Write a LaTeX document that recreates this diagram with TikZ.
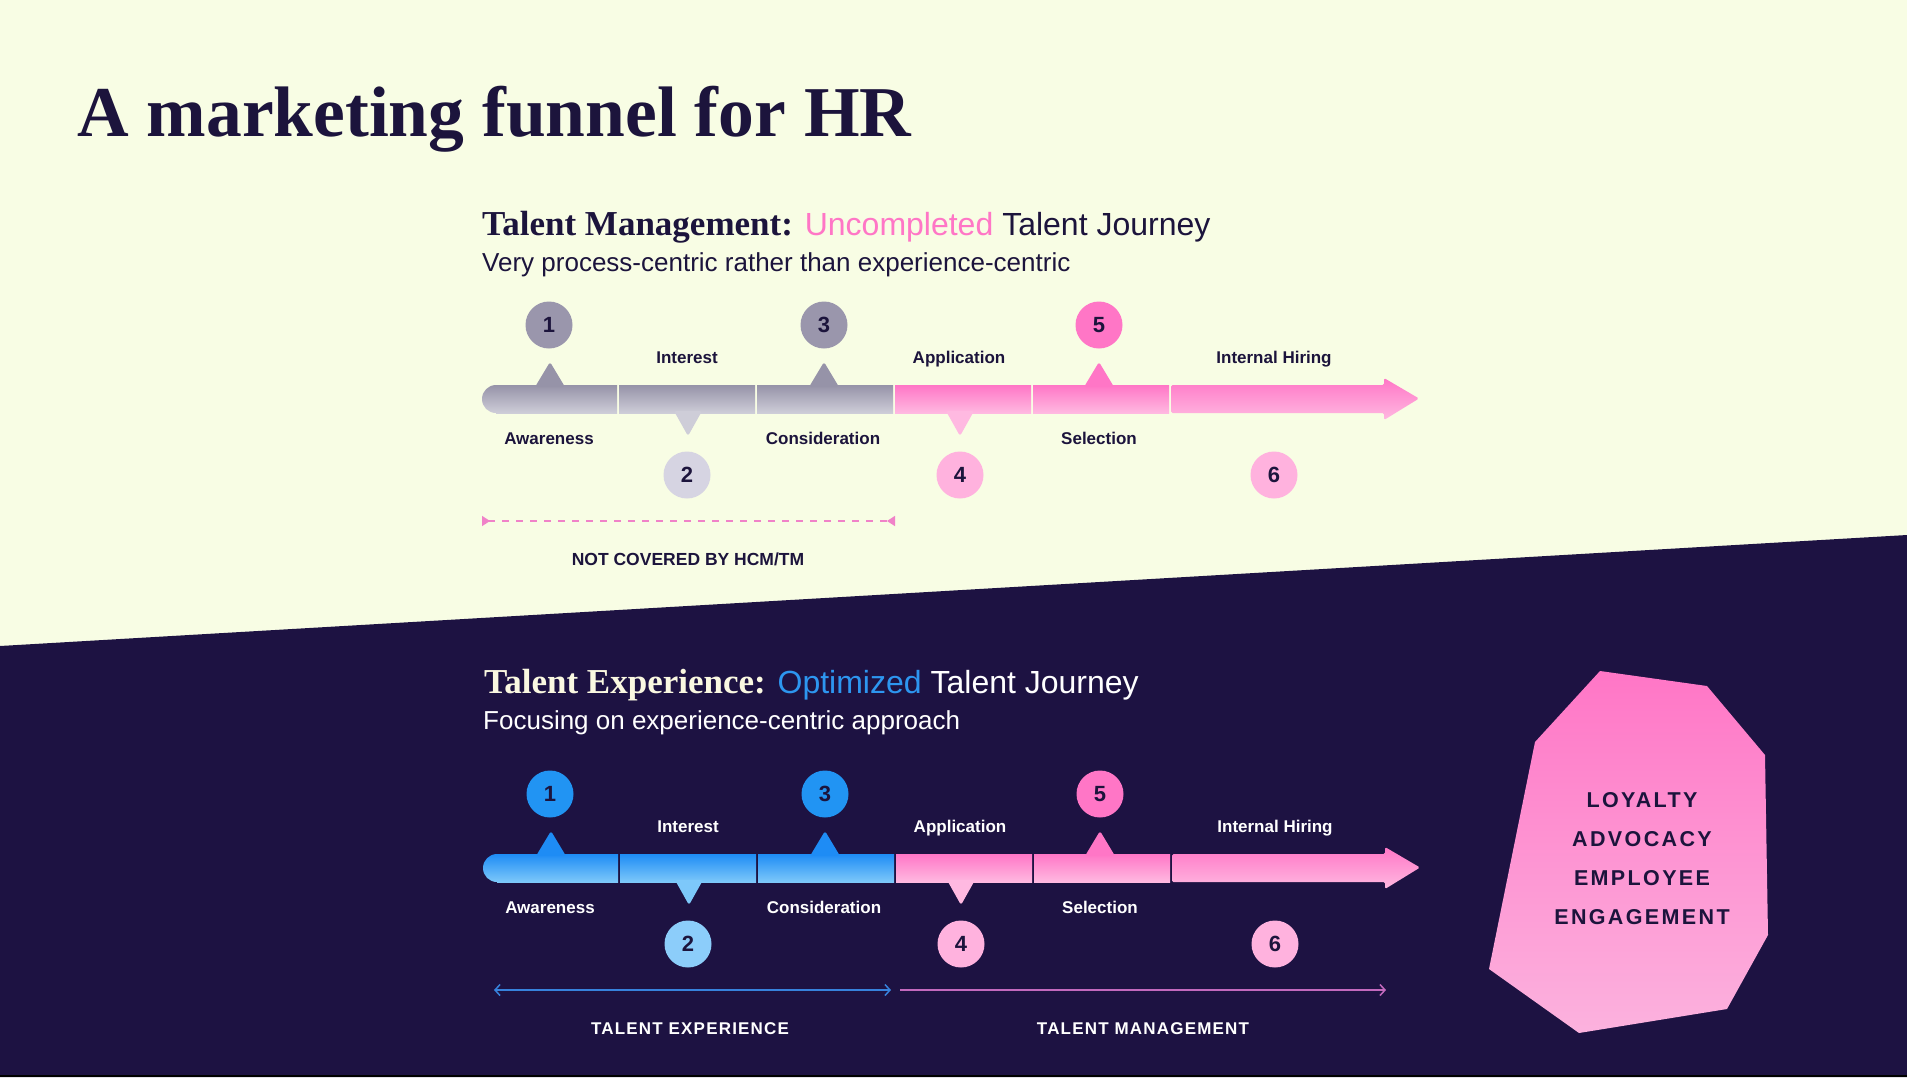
\documentclass[tikz,border=0pt]{standalone}
\usepackage{fontspec}
\setmainfont{Liberation Sans}
\newfontfamily\serifface{Liberation Serif}
\newfontfamily\trackedwide[LetterSpace=11]{Liberation Sans}
\newfontfamily\trackedsmall[LetterSpace=7]{Liberation Sans}
\usetikzlibrary{arrows.meta}

\definecolor{cream}{RGB}{248,253,228}
\definecolor{navy}{RGB}{29,18,66}
\definecolor{ink}{RGB}{28,20,60}
\definecolor{pkA}{RGB}{255,118,198}
\definecolor{pkB}{RGB}{255,185,225}
\definecolor{pkL}{RGB}{255,178,222}
\definecolor{pkC}{RGB}{252,178,222}
\definecolor{gyA}{RGB}{150,147,168}
\definecolor{gyB}{RGB}{206,205,216}
\definecolor{gyC}{RGB}{154,150,172}
\definecolor{gyD}{RGB}{214,212,226}
\definecolor{buA}{RGB}{30,140,245}
\definecolor{buB}{RGB}{125,200,250}
\definecolor{buC}{RGB}{33,148,243}
\definecolor{buD}{RGB}{140,205,250}
\definecolor{headcream}{RGB}{250,248,225}
\definecolor{optblue}{RGB}{45,150,240}
\definecolor{dashpink}{RGB}{240,130,200}
\definecolor{lineblue}{RGB}{55,130,220}
\definecolor{linepink}{RGB}{195,105,190}

\tikzset{
  num/.style={circle, minimum size=47pt, inner sep=0pt, text=ink,
    font=\bfseries\fontsize{22}{24}\selectfont},
  stage/.style={anchor=base, inner sep=0pt, font=\bfseries\fontsize{17}{20}\selectfont},
  headline/.style={anchor=base west, inner sep=0pt, font=\fontsize{32}{38}\selectfont},
  subline/.style={anchor=base west, inner sep=0pt, font=\fontsize{26}{30}\selectfont},
  caps/.style={anchor=base, inner sep=0pt, font=\trackedsmall\bfseries\fontsize{17}{20}\selectfont},
}

% #1 bar top, #2 bar bottom, #3 circle dark, #4 circle light, #5 label colour
\newcommand{\journey}[5]{%
  \shade[top color=#1,bottom color=#2] (496,399) circle[radius=14];
  \shade[top color=#1,bottom color=#2] (496,385) rectangle (617,413);
  \shade[top color=#1,bottom color=#2] (619,385) rectangle (755,413);
  \shade[top color=#1,bottom color=#2] (757,385) rectangle (893,413);
  \shade[top color=pkA,bottom color=pkB] (895,385) rectangle (1031,413);
  \shade[top color=pkA,bottom color=pkB] (1033,385) rectangle (1169,413);
  \shade[top color=pkA,bottom color=pkB,rounded corners=1.5pt]
    (1171,385) -- (1384,385) -- (1384,378) -- (1419,398.5) -- (1384,420)
    -- (1384,413) -- (1171,413) -- cycle;
  \fill[#1,rounded corners=2.5pt] (535,387) -- (550,362) -- (565,387) -- cycle;
  \fill[#2,rounded corners=2.5pt] (674,411) -- (688,436) -- (702,411) -- cycle;
  \fill[#1,rounded corners=2.5pt] (809,387) -- (824,362) -- (839,387) -- cycle;
  \fill[pkB,rounded corners=2.5pt] (946,411) -- (960,436) -- (974,411) -- cycle;
  \fill[pkA,rounded corners=2.5pt] (1084,387) -- (1099,362) -- (1114,387) -- cycle;
  \node[num, fill=#3] (c1) at (549,325) {1};
  \node[num, fill=#4] (c2) at (687,475) {2};
  \node[num, fill=#3] (c3) at (824,325) {3};
  \node[num, fill=pkL] (c4) at (960,475) {4};
  \node[num, fill=pkA] (c5) at (1099,325) {5};
  \node[num, fill=pkL] (c6) at (1274,475) {6};
  \node[stage, text=#5] (l1) at (549,444) {Awareness};
  \node[stage, text=#5] (l2) at (687,363) {Interest};
  \node[stage, text=#5] (l3) at (823,444) {Consideration};
  \node[stage, text=#5] (l4) at (959,363) {Application};
  \node[stage, text=#5] (l5) at (1099,444) {Selection};
  \node[stage, text=#5] (l6) at (1274,363) {Internal Hiring};
}

\begin{document}
\begin{tikzpicture}[x=1pt, y=-1pt]
\useasboundingbox (0,0) rectangle (1907,1077);
% backgrounds
\fill[cream] (0,0) rectangle (1907,1077);
\fill[navy] (0,646) -- (1907,535) -- (1907,1077) -- (0,1077) -- cycle;
\fill[black] (0,1074.5) rectangle (1907,1077);

% title
\node[anchor=base west, inner sep=0pt, text=ink,
  font=\serifface\bfseries\fontsize{71.5}{80}\selectfont] (title) at (77,136)
  {A marketing funnel for HR};

% ---------- upper section ----------
\node[headline, text=ink] (head1) at (482,235)
  {{\serifface\bfseries\fontsize{35}{40}\selectfont Talent Management:} \textcolor{pkA}{Uncompleted} Talent Journey};
\node[subline, text=ink] (sub1) at (482,271)
  {Very process-centric rather than experience-centric};

\journey{gyA}{gyB}{gyC}{gyD}{ink}

\coordinate (ncl) at (482,521);
\coordinate (ncr) at (895,521);
\draw[dashpink, line width=1.5pt, dash pattern=on 7pt off 7pt,
  {Triangle[reversed,length=8pt,width=10pt]}-{Triangle[reversed,length=8pt,width=10pt]}]
  (ncl) -- (ncr);
\node[anchor=base, inner sep=0pt, text=ink,
  font=\bfseries\fontsize{17.5}{20}\selectfont] (nc) at (688,565.5) {NOT COVERED BY HCM/TM};

% ---------- lower section ----------
\node[headline, text=white] (head2) at (484,693)
  {{\serifface\bfseries\fontsize{35}{40}\selectfont\color{headcream}Talent Experience:} \textcolor{optblue}{Optimized} Talent Journey};
\node[subline, text=white] (sub2) at (483,729)
  {Focusing on experience-centric approach};

\begin{scope}[yshift=-469pt, xshift=1pt, name prefix=b-]
  \journey{buA}{buB}{buC}{buD}{white}
\end{scope}

\coordinate (tel) at (494,990);
\coordinate (ter) at (891,990);
\coordinate (tml) at (900,990);
\coordinate (tmr) at (1386,990);
\draw[lineblue, line width=1.5pt,
  {Straight Barb[length=5pt,width=11pt]}-{Straight Barb[length=5pt,width=11pt]}] (tel) -- (ter);
\draw[linepink, line width=1.5pt, -{Straight Barb[length=5pt,width=11pt]}] (tml) -- (tmr);
\node[caps, text=white] (te) at (690,1034) {TALENT EXPERIENCE};
\node[caps, text=white] (tm) at (1143,1034) {TALENT MANAGEMENT};

% pink blob
\shade[top color=pkA, bottom color=pkC]
  (1600,671) -- (1707,686) -- (1765,755) -- (1768,935) -- (1727,1009)
  -- (1579,1033) -- (1489,969) -- (1535,742) -- cycle;
\node[anchor=center, inner sep=0pt, align=center, text=ink,
  font=\trackedwide\bfseries\fontsize{21.5}{39}\selectfont] (loyal) at (1642,858.5)
  {LOYALTY\\ADVOCACY\\EMPLOYEE\\ENGAGEMENT};
\end{tikzpicture}
\end{document}
